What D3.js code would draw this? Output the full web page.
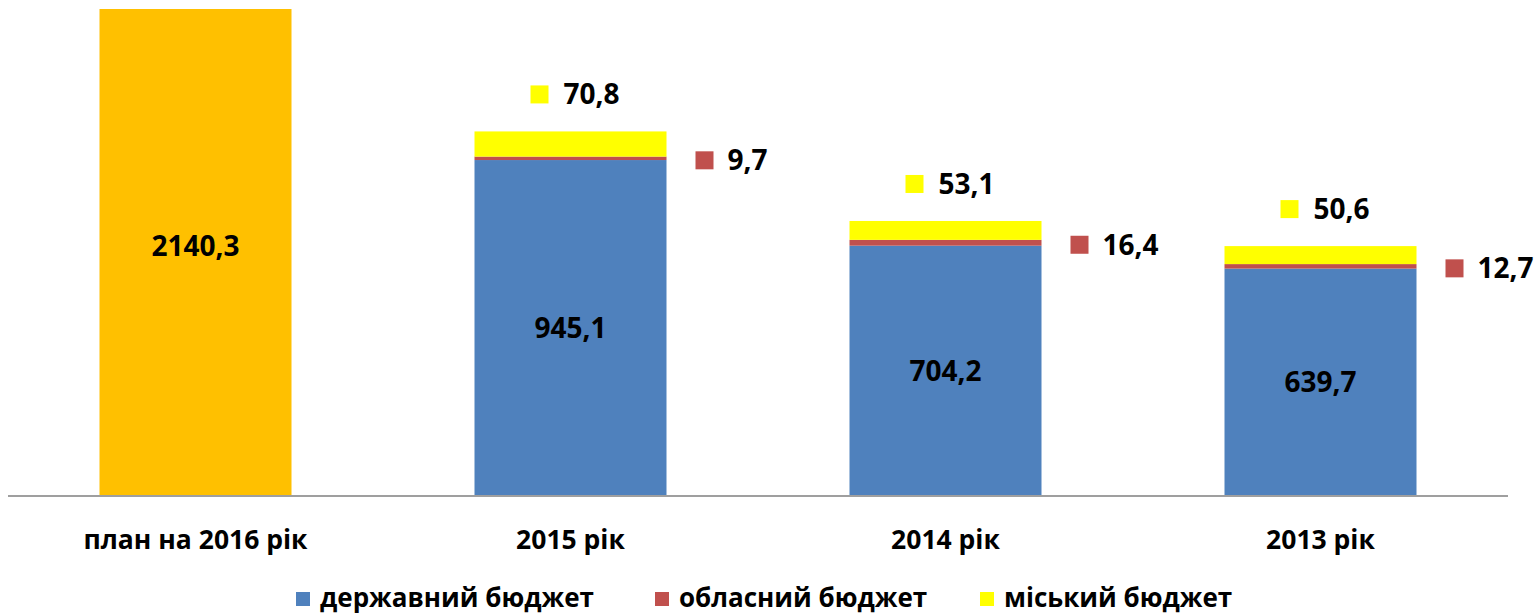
<!DOCTYPE html>
<html>
<head>
<meta charset="utf-8">
<script src="https://cdn.jsdelivr.net/npm/d3@7.9.0/dist/d3.min.js"></script>
<style>
  body { margin: 0; background: #fff; }
  svg { display: block; font-family: 'Open Sans', sans-serif; font-weight: 700; }
</style>
</head>
<body>
<svg id="chart" width="1534" height="616"></svg>
<script>
const categories = ['план на 2016 рік', '2015 рік', '2014 рік', '2013 рік'];
const planValues = [2140.3, 0, 0, 0];
const stateValues = [0, 945.1, 704.2, 639.7];
const oblastValues = [0, 9.7, 16.4, 12.7];
const cityValues = [0, 70.8, 53.1, 50.6];
const legendLabels = ['державний бюджет', 'обласний бюджет', 'міський бюджет'];

const colors = { plan: '#FFC000', state: '#4F81BD', oblast: '#C0504D', city: '#FFFF00' };
const fmt = (v) => v.toFixed(1).replace('.', ',');

const svg = d3.select('#chart');
const baseline = 496;
const plotTop = 9;

const x = d3.scaleBand().domain(categories).range([8, 1508])
  .paddingInner(0.488).paddingOuter(0.244);
const y = d3.scaleLinear().domain([0, 1370]).range([baseline, plotTop]);

svg.append('clipPath').attr('id', 'plot-clip')
  .append('rect').attr('x', 0).attr('y', plotTop).attr('width', 1534).attr('height', baseline - plotTop);

const rows = categories.map((c, i) => ({
  cat: c,
  plan: planValues[i],
  state: stateValues[i],
  oblast: oblastValues[i],
  city: cityValues[i]
}));

const stack = d3.stack().keys(['state', 'oblast', 'city'])(rows);

const plot = svg.append('g').attr('clip-path', 'url(#plot-clip)');

// plan bar (runs past the top of the plot, clipped like the original)
plot.selectAll('rect.plan')
  .data(rows.filter((d) => d.plan > 0))
  .join('rect')
  .attr('class', 'plan')
  .attr('x', (d) => x(d.cat))
  .attr('width', x.bandwidth())
  .attr('y', (d) => y(d.plan))
  .attr('height', (d) => baseline - y(d.plan))
  .attr('fill', colors.plan);

// stacked bars
stack.forEach((layer) => {
  plot.selectAll(null)
    .data(layer.filter((d) => d[1] - d[0] > 0))
    .join('rect')
    .attr('x', (d) => x(d.data.cat))
    .attr('width', x.bandwidth())
    .attr('y', (d) => y(d[1]))
    .attr('height', (d) => y(d[0]) - y(d[1]))
    .attr('fill', colors[layer.key]);
});

// axis line
svg.append('line')
  .attr('x1', 8).attr('x2', 1508)
  .attr('y1', baseline).attr('y2', baseline)
  .attr('stroke', '#9f9f9f').attr('stroke-width', 2);

// category labels
svg.selectAll('text.cat')
  .data(categories)
  .join('text')
  .attr('class', 'cat')
  .attr('x', (d) => x(d) + x.bandwidth() / 2)
  .attr('y', 549)
  .attr('text-anchor', 'middle')
  .attr('font-size', 26.5)
  .text((d) => d);

// labels inside bars
const visibleTop = (v) => Math.max(y(v), plotTop);
rows.filter((d) => d.plan > 0).forEach((d) => {
  svg.append('text')
    .attr('x', x(d.cat) + x.bandwidth() / 2)
    .attr('y', (baseline + visibleTop(d.plan)) / 2 - 6)
    .attr('dy', '0.35em')
    .attr('text-anchor', 'middle')
    .attr('font-size', 28)
    .text(fmt(d.plan));
});

stack[0].filter((d) => d[1] > 0).forEach((d) => {
  svg.append('text')
    .attr('x', x(d.data.cat) + x.bandwidth() / 2)
    .attr('y', (y(d[0]) + y(d[1])) / 2)
    .attr('dy', '0.35em')
    .attr('text-anchor', 'middle')
    .attr('font-size', 28)
    .text(fmt(d[1] - d[0]));
});

// oblast labels to the right of bar
stack[1].filter((d) => d[1] - d[0] > 0).forEach((d) => {
  const cy = (y(d[0]) + y(d[1])) / 2 + 2;
  const sx = x(d.data.cat) + x.bandwidth() + 29;
  svg.append('rect').attr('x', sx).attr('y', cy - 9).attr('width', 18).attr('height', 18)
    .attr('fill', colors.oblast);
  svg.append('text').attr('x', sx + 32).attr('y', cy).attr('dy', '0.35em')
    .attr('font-size', 28).text(fmt(d[1] - d[0]));
});

// city labels above bar
stack[2].filter((d) => d[1] - d[0] > 0).forEach((d) => {
  const cy = y(d[1]) - 37;
  const sx = x(d.data.cat) + x.bandwidth() / 2 - 40;
  svg.append('rect').attr('x', sx).attr('y', cy - 9).attr('width', 18).attr('height', 18)
    .attr('fill', colors.city);
  svg.append('text').attr('x', sx + 33).attr('y', cy).attr('dy', '0.35em')
    .attr('font-size', 28).text(fmt(d[1] - d[0]));
});

// legend
const legendKeys = ['state', 'oblast', 'city'];
const legendX = [296, 655, 980];
const legend = svg.append('g');
legendKeys.forEach((k, i) => {
  legend.append('rect').attr('x', legendX[i]).attr('y', 592).attr('width', 14).attr('height', 14)
    .attr('fill', colors[k]);
  legend.append('text').attr('x', legendX[i] + 24).attr('y', 607)
    .attr('font-size', 26).text(legendLabels[i]);
});
</script>
</body>
</html>
